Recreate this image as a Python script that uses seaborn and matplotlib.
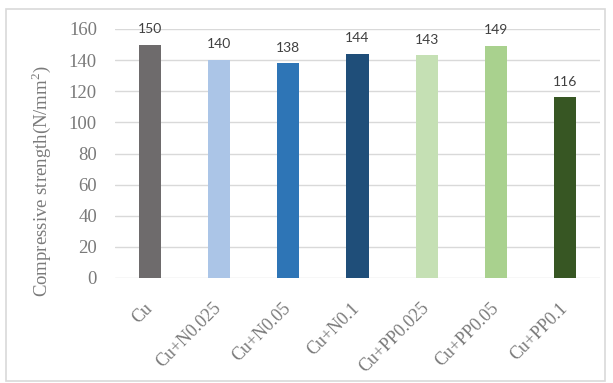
import matplotlib
matplotlib.use("Agg")
import matplotlib.pyplot as plt
import seaborn as sns
import pandas as pd
from matplotlib.patches import Rectangle

categories = ["Cu", "Cu+N0.025", "Cu+N0.05", "Cu+N0.1", "Cu+PP0.025", "Cu+PP0.05", "Cu+PP0.1"]
strength = [150, 140, 138, 144, 143, 149, 116]
colors = ["#6e6b6c", "#abc5e7", "#2e75b6", "#1f4e79", "#c5e0b4", "#a9d18e", "#375623"]
yticks = [0, 20, 40, 60, 80, 100, 120, 140, 160]
ylabel = "Compressive strength(N/mm$^{2}$)"

sns.set_theme(style="white")
plt.rcParams["font.family"] = ["Liberation Serif", "DejaVu Serif"]
plt.rcParams["mathtext.fontset"] = "custom"
plt.rcParams["mathtext.rm"] = "Liberation Serif"

df = pd.DataFrame({"cat": categories, "val": strength})

fig = plt.figure(figsize=(6.13, 3.83), dpi=100)
ax = fig.add_axes([115/613, 1-278/383, 485/613, 249/383])

sns.barplot(data=df, x="cat", y="val", hue="cat", palette=colors, order=categories,
            hue_order=categories, dodge=False, legend=False, width=0.32, ax=ax,
            saturation=1, linewidth=0)

ax.set_ylim(0, 160)
ax.set_xlim(-0.5, len(categories) - 0.5)
ax.set_yticks(yticks)
ax.set_yticklabels([str(t) for t in yticks], fontsize=13.5, color="#7a7a7a")
ax.yaxis.grid(True, color="#d9d9d9", linewidth=1.0)
ax.set_axisbelow(True)
for s in ["top", "right", "left", "bottom"]:
    ax.spines[s].set_visible(False)
ax.tick_params(axis="both", length=0)
ax.tick_params(axis="y", pad=13)

ax.set_xticks(range(len(categories)))
ax.set_xticklabels(categories, rotation=45, ha="right", va="center",
                   rotation_mode="anchor", fontsize=13, color="#7a7a7a")
ax.tick_params(axis="x", pad=20)
ax.set_xlabel("")
ax.set_ylabel(ylabel, fontsize=13.5, color="#7a7a7a")
ax.yaxis.set_label_coords(-0.128, 0.39)

for i, v in enumerate(strength):
    ax.annotate(str(v), (i, v), xytext=(0, 7), textcoords="offset points",
                ha="center", va="bottom", fontsize=10, color="#404040",
                family=["Lato", "DejaVu Sans"])

fig.patches.append(Rectangle((6/613, 2/383), 599/613, 372/383, transform=fig.transFigure,
                             fill=False, edgecolor="#d9d9d9", linewidth=1.2))

fig.savefig("out.png", dpi=100)
